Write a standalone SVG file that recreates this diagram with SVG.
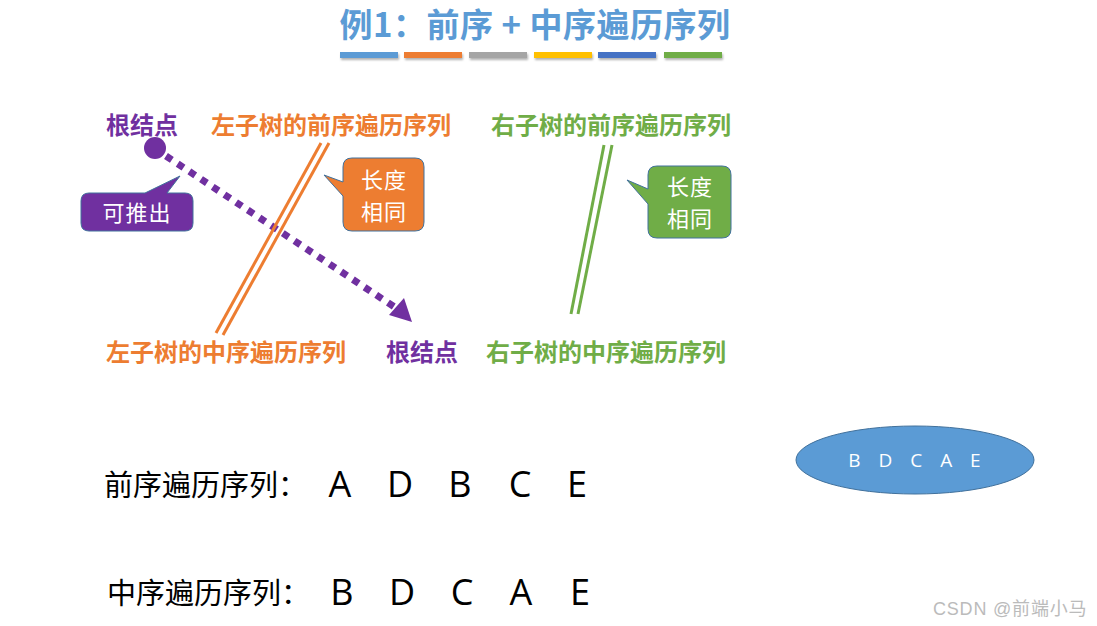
<svg xmlns="http://www.w3.org/2000/svg" width="1097" height="626" viewBox="0 0 1097 626">
<style>
.t{font-family:"Noto Sans CJK SC","Noto Sans",sans-serif;font-weight:bold;font-size:24px}
.p{fill:#7030A0}.o{fill:#ED7D31}.g{fill:#70AD47}
.w{font-family:"Noto Sans CJK SC",sans-serif;font-size:22px;letter-spacing:1px;fill:#fff;text-anchor:middle}
.lab{font-family:"Liberation Serif","Noto Sans CJK SC",serif;font-size:29px;fill:#000}
.let{font-family:"Open Sans","Liberation Sans",sans-serif;font-size:36px;fill:#000;text-anchor:middle}
</style>
<defs>
<filter id="sh" x="-10%" y="-50%" width="120%" height="250%"><feDropShadow dx="1" dy="2" stdDeviation="1" flood-color="#000" flood-opacity="0.3"/></filter>
</defs>
<rect width="1097" height="626" fill="#fff"/>
<g id="title">
<text x="535" y="37" text-anchor="middle" font-family="Noto Sans CJK SC,sans-serif" font-weight="bold" font-size="33" letter-spacing="0.5" fill="#5B9BD5">例1：前序 + 中序遍历序列</text>
<g filter="url(#sh)">
<rect x="340" y="52" width="58" height="6" fill="#5B9BD5"/>
<rect x="404" y="52" width="58" height="6" fill="#ED7D31"/>
<rect x="469" y="52" width="58" height="6" fill="#A5A5A5"/>
<rect x="534" y="52" width="58" height="6" fill="#FFC000"/>
<rect x="598" y="52" width="58" height="6" fill="#4472C4"/>
<rect x="664" y="52" width="58" height="6" fill="#70AD47"/>
</g>
</g>
<g id="labels-top">
<text class="t p" x="106" y="134">根结点</text>
<text class="t o" x="211" y="134">左子树的前序遍历序列</text>
<text class="t g" x="491" y="134">右子树的前序遍历序列</text>
</g>
<g id="labels-bottom">
<text class="t o" x="106" y="361">左子树的中序遍历序列</text>
<text class="t p" x="386" y="361">根结点</text>
<text class="t g" x="486" y="361">右子树的中序遍历序列</text>
</g>
<g id="connectors">
<circle cx="155" cy="148" r="11" fill="#7030A0"/>
<line x1="166" y1="156" x2="396" y2="308" stroke="#7030A0" stroke-width="7" stroke-dasharray="7 7"/>
<polygon points="412,322 389,315 404,298" fill="#7030A0"/>
<line x1="321" y1="143" x2="216" y2="333" stroke="#ED7D31" stroke-width="3"/>
<line x1="329" y1="143" x2="223" y2="335" stroke="#ED7D31" stroke-width="3"/>
<line x1="604" y1="145" x2="571" y2="314" stroke="#70AD47" stroke-width="3"/>
<line x1="612" y1="145" x2="578" y2="314" stroke="#70AD47" stroke-width="3"/>
</g>
<g id="callout-orange">
<path d="M352,158 H415 Q424,158 424,167 V222 Q424,231 415,231 H352 Q343,231 343,222 V196 L324,175 L343,182 V167 Q343,158 352,158 Z" fill="#ED7D31" stroke="#41719C" stroke-width="1"/>
<text class="w" x="384" y="188">长度</text>
<text class="w" x="384" y="220">相同</text>
</g>
<g id="callout-green">
<path d="M657,166 H722 Q731,166 731,175 V229 Q731,238 722,238 H657 Q648,238 648,229 V204 L627,180 L648,189 V175 Q648,166 657,166 Z" fill="#70AD47" stroke="#41719C" stroke-width="1"/>
<text class="w" x="690" y="195">长度</text>
<text class="w" x="690" y="227">相同</text>
</g>
<g id="callout-purple">
<path d="M89,193 H145 L180,176 L167,193 H185 Q193,193 193,201 V223 Q193,231 185,231 H89 Q81,231 81,223 V201 Q81,193 89,193 Z" fill="#7030A0" stroke="#41719C" stroke-width="1"/>
<text class="w" x="137" y="221">可推出</text>
</g>
<g id="preorder">
<text class="lab" x="104" y="496">前序遍历序列：</text>
<text class="let" x="340" y="497">A</text>
<text class="let" x="400" y="497">D</text>
<text class="let" x="460" y="497">B</text>
<text class="let" x="520" y="497">C</text>
<text class="let" x="577" y="497">E</text>
</g>
<g id="inorder">
<text class="lab" x="107" y="604">中序遍历序列：</text>
<text class="let" x="342" y="605">B</text>
<text class="let" x="402" y="605">D</text>
<text class="let" x="462" y="605">C</text>
<text class="let" x="521" y="605">A</text>
<text class="let" x="580" y="605">E</text>
</g>
<g id="ellipse">
<ellipse cx="915" cy="460" rx="119" ry="34" fill="#5B9BD5" stroke="#41719C" stroke-width="1"/>
<text x="915" y="467" text-anchor="middle" font-family="Open Sans,Liberation Sans,sans-serif" font-size="19" fill="#fff" letter-spacing="1" word-spacing="11">B D C A E</text>
</g>
<text x="933" y="615" font-family="Liberation Sans,Noto Sans CJK SC,sans-serif" font-size="18" letter-spacing="0.8" fill="#bbb">CSDN @前端小马</text>
</svg>
